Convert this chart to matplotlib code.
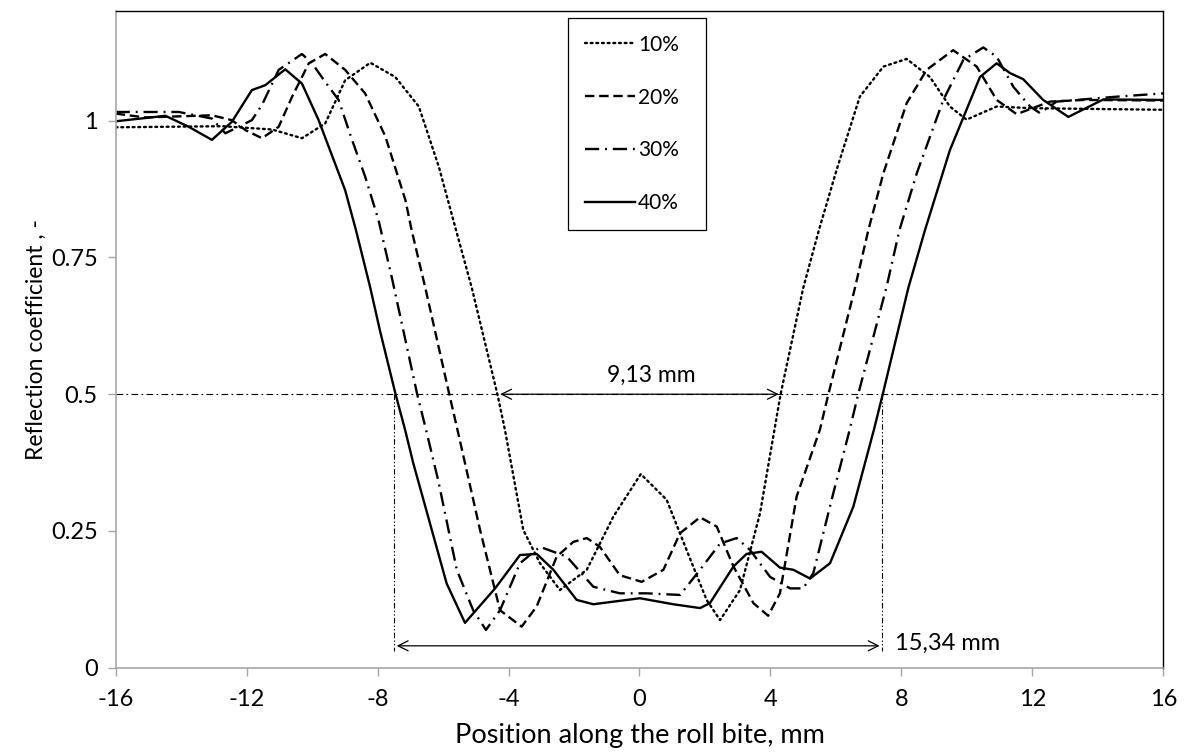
import matplotlib
matplotlib.use("Agg")
import matplotlib.pyplot as plt

plt.rcParams['font.family'] = ['Lato', 'DejaVu Sans']

# 10% reduction (dotted)
x10 = [-16.0, -12.75, -11.22, -10.31, -9.60, -8.99, -8.22, -7.46, -6.74, -6.13, -5.63, -5.12,
       -4.34, -4.11, -3.55, -3.04, -2.43, -1.61, -0.80, 0.04, 0.83, 1.44, 2.05, 2.46, 3.07,
       3.68, 4.31, 5.00, 5.48, 6.02, 6.73, 7.45, 8.16, 8.87, 9.48, 9.99, 10.91, 11.93, 16.0]
y10 = [0.988, 0.990, 0.984, 0.968, 0.995, 1.074, 1.106, 1.080, 1.026, 0.916, 0.806, 0.694,
       0.500, 0.435, 0.252, 0.191, 0.142, 0.179, 0.276, 0.354, 0.307, 0.215, 0.124, 0.087, 0.142,
       0.282, 0.500, 0.694, 0.800, 0.910, 1.044, 1.099, 1.113, 1.080, 1.026, 1.002, 1.026, 1.023, 1.020]

# 20% reduction (dashed)
x20 = [-16.0, -15.1, -13.06, -12.45, -12.04, -11.53, -11.02, -10.61, -10.10, -9.60, -8.99, -8.38,
       -7.76, -7.15, -6.96, -6.54, -5.81, -5.56, -4.87, -4.26, -3.60, -3.14, -2.53, -2.02, -1.61,
       -1.21, -0.60, 0.07, 0.73, 1.24, 1.85, 2.36, 2.87, 3.48, 3.93, 4.29, 4.80, 5.51, 5.77,
       6.58, 6.99, 7.45, 8.16, 8.77, 9.58, 10.30, 10.91, 11.52, 12.54, 13.56, 16.0]
y20 = [1.013, 1.006, 1.010, 1.001, 0.983, 0.968, 0.989, 1.044, 1.105, 1.122, 1.093, 1.050,
       0.971, 0.855, 0.800, 0.694, 0.500, 0.435, 0.252, 0.105, 0.075, 0.112, 0.203, 0.230, 0.237,
       0.221, 0.169, 0.157, 0.179, 0.246, 0.275, 0.258, 0.185, 0.118, 0.095, 0.136, 0.313, 0.435, 0.500,
       0.694, 0.800, 0.904, 1.032, 1.093, 1.129, 1.099, 1.038, 1.012, 1.035, 1.038, 1.037]

# 30% reduction (dash-dot)
x30 = [-16.0, -14.07, -13.06, -12.65, -11.84, -11.53, -11.02, -10.31, -10.0, -9.60, -9.19, -8.78,
       -8.38, -7.97, -7.56, -6.79, -6.52, -6.15, -5.58, -5.08, -4.69, -4.26, -3.65, -3.04, -2.22,
       -1.41, -0.60, 0.22, 1.24, 1.85, 2.46, 2.97, 3.38, 3.99, 4.60, 5.00, 5.31, 5.92, 6.42, 6.68,
       7.55, 7.94, 8.47, 9.28, 9.89, 10.50, 10.91, 11.42, 11.93, 12.23, 12.74, 14.58, 16.0]
y30 = [1.016, 1.016, 1.004, 0.977, 1.001, 1.029, 1.093, 1.122, 1.105, 1.071, 1.038, 0.965,
       0.898, 0.818, 0.712, 0.500, 0.435, 0.343, 0.179, 0.105, 0.069, 0.105, 0.191, 0.221, 0.203,
       0.148, 0.136, 0.136, 0.133, 0.179, 0.227, 0.237, 0.215, 0.166, 0.145, 0.145, 0.173, 0.319, 0.435, 0.500,
       0.697, 0.800, 0.904, 1.038, 1.111, 1.134, 1.117, 1.062, 1.026, 1.014, 1.035, 1.044, 1.050]

# 40% reduction (solid)
x40 = [-16.0, -14.48, -13.77, -13.06, -12.45, -11.84, -11.43, -10.82, -10.31, -9.80, -8.99, -8.66,
       -8.22, -7.93, -7.45, -7.16, -6.91, -5.89, -5.33, -4.41, -3.65, -3.14, -2.63, -1.92, -1.41,
       0.015, 1.03, 1.85, 2.15, 2.87, 3.27, 3.73, 4.29, 4.70, 5.21, 5.82, 6.53, 7.16, 7.43,
       8.21, 8.72, 9.48, 10.40, 10.91, 11.32, 11.72, 12.33, 13.10, 14.17, 16.0]
y40 = [0.999, 1.009, 0.989, 0.965, 0.998, 1.056, 1.065, 1.094, 1.068, 1.001, 0.873, 0.800,
       0.694, 0.617, 0.500, 0.435, 0.374, 0.154, 0.082, 0.145, 0.206, 0.208, 0.179, 0.124, 0.116,
       0.127, 0.116, 0.109, 0.118, 0.185, 0.208, 0.212, 0.183, 0.179, 0.163, 0.191, 0.294, 0.435, 0.500,
       0.694, 0.800, 0.946, 1.080, 1.105, 1.087, 1.076, 1.038, 1.007, 1.039, 1.038]

labels = ['10%', '20%', '30%', '40%']
x_ticks = [-16, -12, -8, -4, 0, 4, 8, 12, 16]
y_ticks = [0, 0.25, 0.5, 0.75, 1]
y_tick_labels = ['0', '0.25', '0.5', '0.75', '1']

# contact-length markers
inner_x = [-4.34, 4.34]
outer_x = [-7.50, 7.42]
level = 0.5
arrow_y = 0.04

fig = plt.figure(figsize=(11.85, 7.56), dpi=100)
ax = fig.add_axes([0.0976, 0.1168, 0.8841, 0.8682])

lw = 1.7
ax.plot(x10, y10, color='black', lw=lw, linestyle=(0, (0.8, 1.6)), dash_capstyle='round', label=labels[0])
ax.plot(x20, y20, color='black', lw=lw, linestyle=(0, (4.0, 2.0)), label=labels[1])
ax.plot(x30, y30, color='black', lw=lw, linestyle=(0, (6.0, 2.5, 0.8, 2.5)), label=labels[2])
ax.plot(x40, y40, color='black', lw=lw, linestyle='-', label=labels[3])

# horizontal 0.5 line and vertical markers
ax.axhline(level, color='black', lw=0.8, linestyle=(0, (6, 3, 1.5, 3)))
for xv in outer_x:
    ax.plot([xv, xv], [level, arrow_y - 0.01], color='black', lw=0.8,
            linestyle=(0, (5, 2, 1.2, 2, 1.2, 2)))

arrow = dict(arrowstyle='<->', color='black', lw=0.9, mutation_scale=18)
ax.annotate('', xy=(inner_x[0], level), xytext=(inner_x[1], level), arrowprops=arrow)
ax.annotate('', xy=(outer_x[0], arrow_y), xytext=(outer_x[1], arrow_y), arrowprops=arrow)
ax.text(0.37, 0.534, '9,13 mm', ha='center', va='center', fontsize=16.5)
ax.text(7.8, 0.045, '15,34 mm', ha='left', va='center', fontsize=17)

ax.set_xlim(-16, 16)
ax.set_ylim(0, 1.2)
ax.set_xticks(x_ticks)
ax.set_xticklabels([str(t) for t in x_ticks])
ax.set_yticks(y_ticks)
ax.set_yticklabels(y_tick_labels)
ax.tick_params(axis='both', direction='out', length=6, width=1, color='#a6a6a6',
               labelsize=17)
ax.tick_params(axis='x', pad=9)
ax.tick_params(axis='y', pad=7)

for side in ['left', 'bottom']:
    ax.spines[side].set_color('#a6a6a6')
    ax.spines[side].set_linewidth(1.2)
for side in ['top', 'right']:
    ax.spines[side].set_color('black')
    ax.spines[side].set_linewidth(1.0)

ax.set_xlabel('Position along the roll bite, mm', fontsize=19.5, labelpad=10)
ax.set_ylabel('Reflection coefficient , -', fontsize=16.5, labelpad=3)

leg = ax.legend(loc='upper left',
                bbox_to_anchor=(568 / 1185, 1 - 218 / 756, 138 / 1185, 200 / 756),
                bbox_transform=fig.transFigure, mode='expand', fontsize=15, frameon=True,
                fancybox=False, handlelength=2.4, handletextpad=0.15, labelspacing=1.58,
                borderpad=0.8, borderaxespad=0, framealpha=1)
leg.get_frame().set_edgecolor('black')
leg.get_frame().set_linewidth(0.9)

fig.savefig('out.png', dpi=100)
